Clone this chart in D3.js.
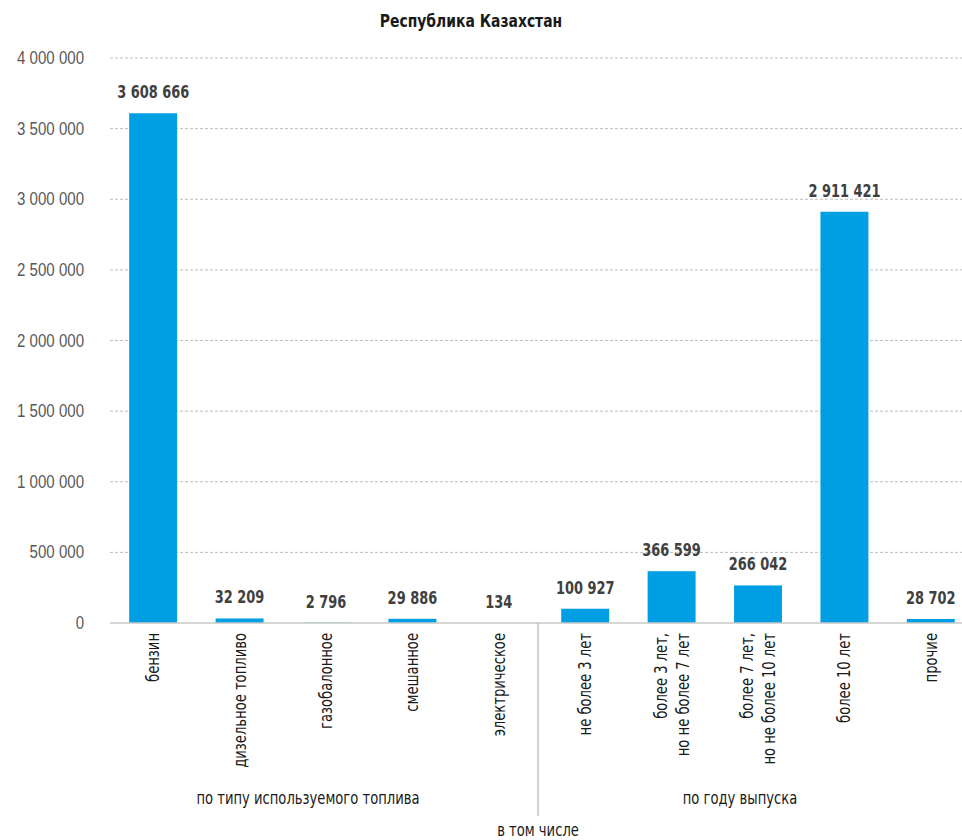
<!DOCTYPE html>
<html>
<head>
<meta charset="utf-8">
<script src="https://cdn.jsdelivr.net/npm/d3@7"></script>
<style>
  html, body { margin: 0; padding: 0; background: #fff; }
  svg { display: block; font-family: "DejaVu Sans Condensed", "Liberation Sans Narrow", sans-serif; }
</style>
</head>
<body>
<svg id="chart" width="962" height="840"></svg>
<script>
// Number of vehicles by fuel type and by year of manufacture
const categories = [
  ["бензин"],
  ["дизельное топливо"],
  ["газобалонное"],
  ["смешанное"],
  ["электрическое"],
  ["не более 3 лет"],
  ["более 3 лет,", "но не более 7 лет"],
  ["более 7 лет,", "но не более 10 лет"],
  ["более 10 лет"],
  ["прочие"]
];
const values = [3608666, 32209, 2796, 29886, 134, 100927, 366599, 266042, 2911421, 28702];
const yTicks = [0, 500000, 1000000, 1500000, 2000000, 2500000, 3000000, 3500000, 4000000];
const groups = [
  { label: "по типу используемого топлива", from: 0, to: 4 },
  { label: "по году выпуска", from: 5, to: 9 }
];
const title = "Республика Казахстан";
const subLabel = "в том числе";

// horizontal squeeze to get a narrow, condensed look
const SQ = 0.86;
const SQB = 0.8;

const svg = d3.select("#chart");
const fmt = v => d3.format(",")(v).replace(/,/g, " ");

const x = d3.scaleBand()
  .domain(d3.range(values.length))
  .range([110, 974])
  .paddingInner(0.445)
  .paddingOuter(0.222);

const y = d3.scaleLinear().domain([0, 4000000]).range([623, 58]);

// Title
svg.append("text")
  .attr("transform", `translate(471,27) scale(${SQ},1)`)
  .attr("text-anchor", "middle")
  .attr("font-size", 18).attr("font-weight", "bold")
  .attr("fill", "#1a1a1a")
  .text(title);

// Gridlines
svg.append("g")
  .selectAll("line")
  .data(yTicks.filter(d => d > 0))
  .join("line")
  .attr("x1", 110).attr("x2", 962)
  .attr("y1", d => y(d)).attr("y2", d => y(d))
  .attr("stroke", "#bdbdbd")
  .attr("stroke-width", 1)
  .attr("stroke-dasharray", "3,2");

// Y axis labels
const yAxis = d3.axisLeft(y).tickValues(yTicks).tickFormat(fmt).tickSize(0).tickPadding(0);
const gy = svg.append("g").attr("transform", "translate(84,0)").call(yAxis);
gy.select(".domain").remove();
gy.selectAll("text")
  .attr("x", null)
  .attr("transform", `scale(${SQ},1)`)
  .attr("font-size", 17.5)
  .attr("font-family", null)
  .attr("fill", "#595959");

// Bars
svg.append("g")
  .selectAll("rect")
  .data(values)
  .join("rect")
  .attr("x", (d, i) => x(i))
  .attr("width", x.bandwidth())
  .attr("y", d => y(d))
  .attr("height", d => y(0) - y(d))
  .attr("fill", "#009fe3");

// Baseline
svg.append("line")
  .attr("x1", 110).attr("x2", 962)
  .attr("y1", y(0)).attr("y2", y(0))
  .attr("stroke", "#c8c8c8").attr("stroke-width", 1.5);

// Value labels
svg.append("g")
  .selectAll("text")
  .data(values)
  .join("text")
  .attr("transform", (d, i) => `translate(${x(i) + x.bandwidth() / 2},${y(d) - 15}) scale(${SQB},1)`)
  .attr("text-anchor", "middle")
  .attr("font-size", 18).attr("font-weight", "bold")
  .attr("fill", "#404040")
  .text(fmt);

// Category labels (rotated, reading bottom to top, starting under the axis)
const cat = svg.append("g")
  .selectAll("text")
  .data(categories)
  .join("text")
  .attr("transform", (d, i) => {
    const cx = x(i) + x.bandwidth() / 2;
    const shift = (d.length - 1) * 11;
    return `translate(${cx + 6 - shift},633) rotate(-90) scale(${SQ},1)`;
  })
  .attr("text-anchor", "end")
  .attr("font-size", 17)
  .attr("fill", "#1a1a1a");
cat.each(function(d) {
  const t = d3.select(this);
  d.forEach((line, k) => {
    t.append("tspan")
      .attr("x", 0)
      .attr("dy", k === 0 ? 0 : 22)
      .text(line);
  });
});

// Group separator
const sepX = x(5) - x.step() * x.paddingInner() / 2 - 4;
svg.append("line")
  .attr("x1", sepX).attr("x2", sepX)
  .attr("y1", y(0)).attr("y2", 816)
  .attr("stroke", "#a6a6a6").attr("stroke-width", 1);

// Group labels
svg.append("g")
  .selectAll("text")
  .data(groups)
  .join("text")
  .attr("transform", g => `translate(${(x(g.from) + x(g.to) + x.bandwidth()) / 2 - 18},804) scale(${SQ},1)`)
  .attr("text-anchor", "middle")
  .attr("font-size", 17)
  .attr("fill", "#1a1a1a")
  .text(g => g.label);

svg.append("text")
  .attr("transform", `translate(${sepX},836) scale(${SQ},1)`)
  .attr("text-anchor", "middle")
  .attr("font-size", 17)
  .attr("fill", "#1a1a1a")
  .text(subLabel);
</script>
</body>
</html>
